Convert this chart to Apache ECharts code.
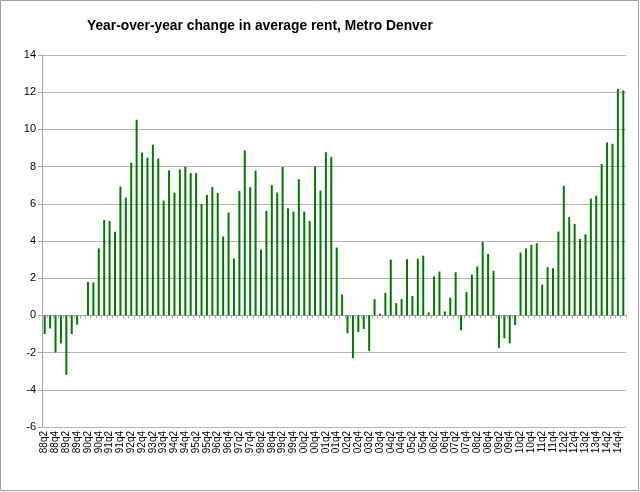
<!DOCTYPE html>
<html>
<head>
<meta charset="utf-8">
<script src="https://cdn.jsdelivr.net/npm/echarts@6/dist/echarts.min.js"></script>
<style>html,body{margin:0;padding:0;background:#fff;}#c{width:640px;height:492px;}</style>
</head>
<body>
<div id="c"></div>
<script>
const titleText = 'Year-over-year change in average rent, Metro Denver';
const quarters = [
 '88q2','88q3','88q4','89q1','89q2','89q3','89q4','90q1','90q2','90q3','90q4',
 '91q1','91q2','91q3','91q4','92q1','92q2','92q3','92q4','93q1','93q2','93q3','93q4',
 '94q1','94q2','94q3','94q4','95q1','95q2','95q3','95q4','96q1','96q2','96q3','96q4',
 '97q1','97q2','97q3','97q4','98q1','98q2','98q3','98q4','99q1','99q2','99q3','99q4',
 '00q1','00q2','00q3','00q4','01q1','01q2','01q3','01q4','02q1','02q2','02q3','02q4',
 '03q1','03q2','03q3','03q4','04q1','04q2','04q3','04q4','05q1','05q2','05q3','05q4',
 '06q1','06q2','06q3','06q4','07q1','07q2','07q3','07q4','08q1','08q2','08q3','08q4',
 '09q1','09q2','09q3','09q4','10q1','10q2','10q3','10q4','11q1','11q2','11q3','11q4',
 '12q1','12q2','12q3','12q4','13q1','13q2','13q3','13q4','14q1','14q2','14q3','14q4','15q1'
];
const rentChange = [
 -1.0,-0.7,-2.0,-1.5,-3.2,-1.0,-0.5,0.0,1.8,1.77,3.6,
 5.13,5.08,4.5,6.92,6.33,8.21,10.52,8.75,8.48,9.18,8.44,6.17,
 7.8,6.6,7.85,8.0,7.65,7.65,5.98,6.48,6.9,6.58,4.24,5.53,
 3.06,6.69,8.87,6.89,7.78,3.54,5.62,7.01,6.6,7.98,5.76,5.58,
 7.32,5.58,5.08,8.01,6.71,8.77,8.52,3.65,1.12,-0.96,-2.3,-0.89,
 -0.73,-1.91,0.875,0.09,1.21,3.0,0.66,0.875,3.02,1.04,3.05,3.21,
 0.16,2.09,2.36,0.21,0.95,2.32,-0.8,1.25,2.2,2.63,3.95,3.3,
 2.4,-1.75,-1.23,-1.5,-0.52,3.38,3.6,3.79,3.88,1.66,2.59,2.54,
 4.51,6.96,5.28,4.92,4.11,4.36,6.28,6.44,8.14,9.3,9.23,12.18,12.09
];
const yMin = -6, yMax = 14, yStep = 2;

const chart = echarts.init(document.getElementById('c'));
const font = 'Liberation Sans, Arial, sans-serif';
chart.setOption({
  animation: false,
  backgroundColor: '#fff',
  title: {
    text: titleText, left: 82, top: 14,
    textStyle: {fontFamily: font, fontSize: 13.8, fontWeight: 'bold', color: '#000'}
  },
  graphic: [{
    type: 'rect', silent: true, z: 100,
    shape: {x: 0.5, y: 0.5, width: 638, height: 490},
    style: {fill: 'none', stroke: '#a0a0a0', lineWidth: 1}
  }],
  grid: {left: 42, right: 14, top: 55, bottom: 65, containLabel: false},
  xAxis: [{
    type: 'category', data: quarters, position: 'bottom',
    axisLine: {show: false, onZero: false},
    axisTick: {show: false},
    axisLabel: {interval: 1, rotate: 90, fontSize: 10, fontFamily: font, color: '#000', margin: 4}
  }, {
    type: 'category', data: quarters, position: 'bottom',
    axisLine: {show: true, onZero: true, lineStyle: {color: '#a6a6a6', width: 1}},
    axisTick: {show: true, length: 3, interval: 0, lineStyle: {color: '#a6a6a6'}},
    axisLabel: {show: false}
  }],
  yAxis: {
    type: 'value', min: yMin, max: yMax, interval: yStep,
    axisLine: {show: true, lineStyle: {color: '#a6a6a6'}},
    axisTick: {show: true, length: 4, lineStyle: {color: '#a6a6a6'}},
    axisLabel: {fontSize: 11, fontFamily: font, color: '#000', margin: 6},
    splitLine: {show: true, lineStyle: {color: '#b4b4b4', width: 1}}
  },
  series: [{
    type: 'bar', data: rentChange, xAxisIndex: 0, barWidth: 2,
    itemStyle: {color: '#007800'}
  }]
});
</script>
</body>
</html>
